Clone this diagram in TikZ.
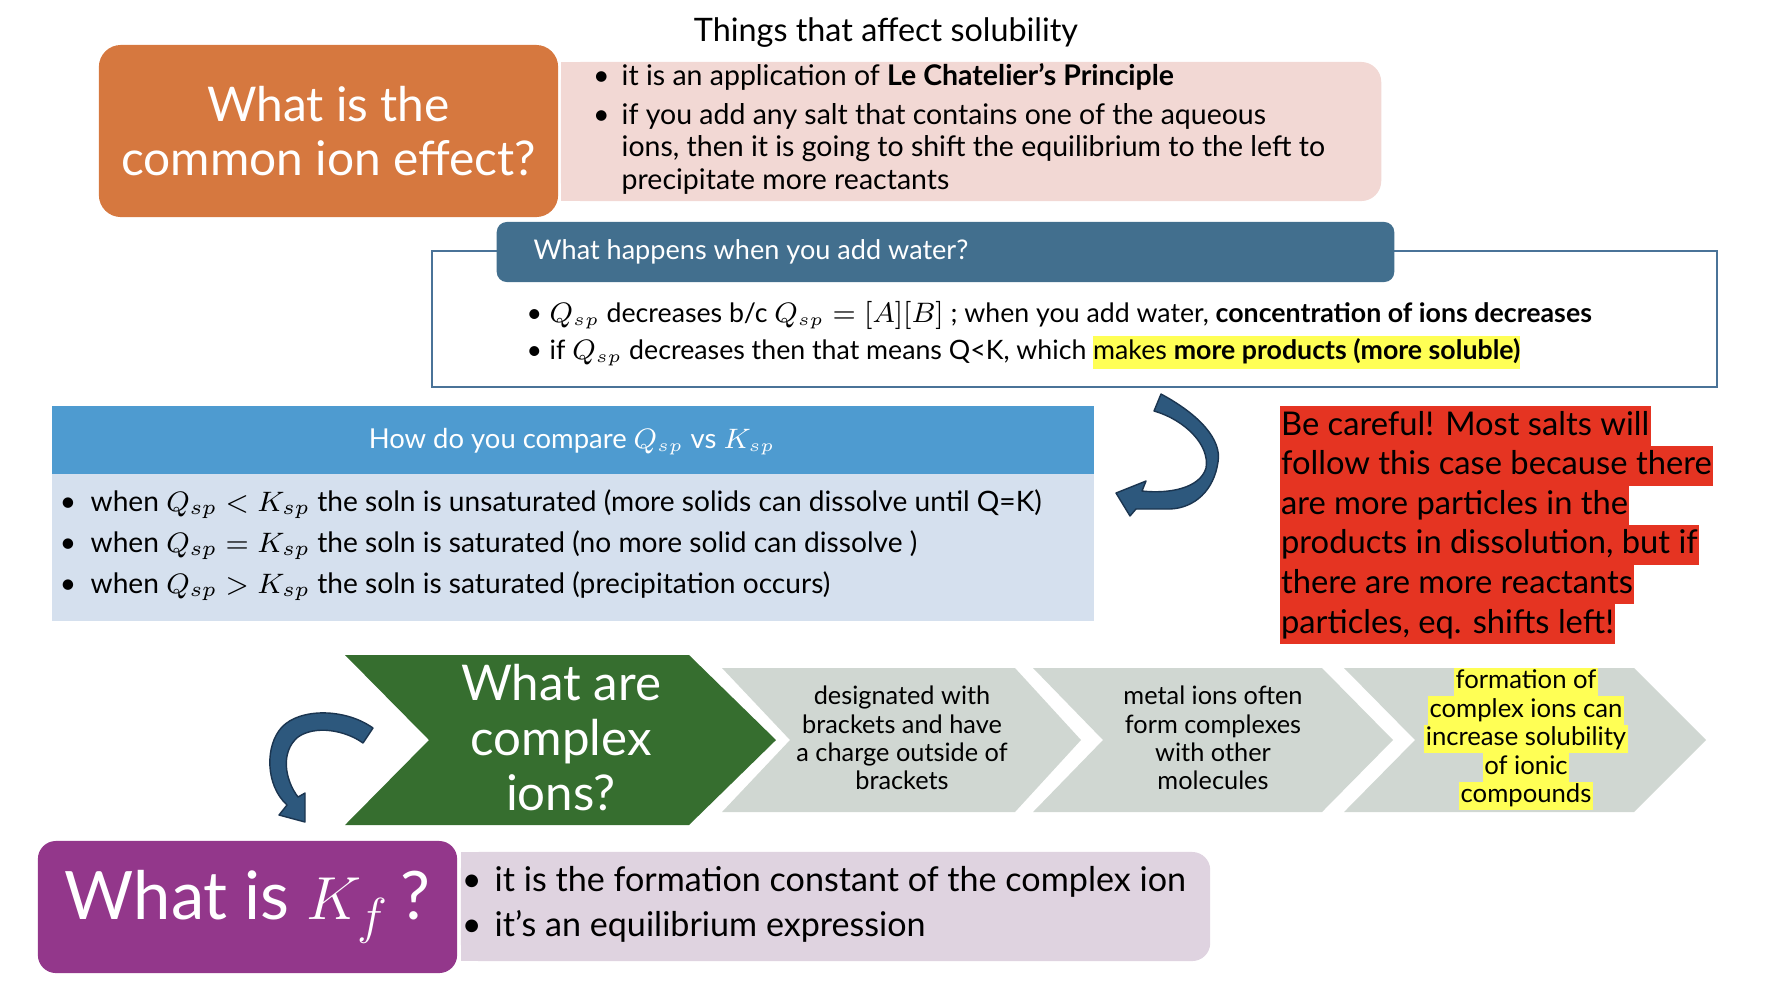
\documentclass[tikz,border=0pt]{standalone}
\usepackage{fontspec}
\setmainfont{Lato}
\definecolor{ionOrange}{HTML}{D6783F}
\definecolor{ionPink}{HTML}{F2D8D4}
\definecolor{waterHead}{HTML}{426F8E}
\definecolor{waterLine}{HTML}{4A7398}
\definecolor{compHead}{HTML}{4E9BD0}
\definecolor{compBody}{HTML}{D5E0EE}
\definecolor{careRed}{HTML}{E53422}
\definecolor{ionGreen}{HTML}{366E2F}
\definecolor{chevGray}{HTML}{D0D7D2}
\definecolor{kfPurple}{HTML}{93378B}
\definecolor{kfLilac}{HTML}{DFD3E0}
\definecolor{hiYellow}{HTML}{FFFF55}
\definecolor{arrowFill}{HTML}{2D587D}
\definecolor{arrowEdge}{HTML}{1B3550}
\newcommand{\itemDot}[1][0.5em]{\llap{\textbullet\hspace{#1}}}
\newcommand{\hiLight}[1]{{\setlength{\fboxsep}{0pt}\colorbox{hiYellow}{\strut #1}}}

\begin{document}
\begin{tikzpicture}[x=0.01cm, y=-0.01cm,
    panel/.style={inner sep=0pt, rounded corners=0.2cm},
    line/.style={anchor=base west, inner sep=0pt},
    pinkText/.style={line, font=\fontsize{8.1}{9.7}\selectfont},
    waterText/.style={line, font=\fontsize{7.6}{9.5}\selectfont},
    compText/.style={line, font=\fontsize{8}{9.6}\selectfont},
    kfText/.style={line, font=\fontsize{9.7}{11.6}\selectfont},
    careLine/.style={anchor=west, fill=careRed, inner xsep=0.4pt, inner ysep=0pt,
        text height=2.9mm, text depth=1.1mm, font=\fontsize{9.3}{11.2}\selectfont},
    chevText/.style={align=center, inner sep=0pt, font=\fontsize{7.2}{8.05}\selectfont},
    markLine/.style={fill=hiYellow, inner xsep=0.4pt, inner ysep=0pt,
        text height=2.1mm, text depth=0.75mm, font=\fontsize{7.3}{8.1}\selectfont},
    bentArrow/.style={fill=arrowFill, draw=arrowEdge, line width=0.4pt, line join=round}
]
    \useasboundingbox (0,0) rectangle (1770,999);

    % Title
    \node[anchor=base, inner sep=0pt, font=\fontsize{9.2}{11}\selectfont] (title) at (886,41) {Things that affect solubility};

    % Common ion effect
    \fill[ionPink] (561,62) rectangle (800,201);
    \node[panel, fill=ionPink, minimum width=8.2cm, minimum height=1.39cm] (commonBody) at (971,131.5) {};
    \node[panel, fill=ionOrange, rounded corners=0.22cm, minimum width=4.59cm, minimum height=1.72cm,
        text=white, align=center, font=\fontsize{13.6}{15.4}\selectfont] (common) at (328.5,131) {What is the\\common ion effect?};
    \node[pinkText] (common1) at (621,85) {\itemDot[0.42em]it is an application of \textbf{Le Chatelier’s Principle}};
    \node[pinkText] (common2) at (621,124) {\itemDot[0.42em]if you add any salt that contains one of the aqueous};
    \node[pinkText] (common3) at (621,156) {ions, then it is going to shift the equilibrium to the left to};
    \node[pinkText] (common4) at (621,189) {precipitate more reactants};

    % Adding water
    \draw[waterLine, line width=0.6pt] (432,251) rectangle (1717,387);
    \node[panel, fill=waterHead, rounded corners=0.1cm, minimum width=8.97cm, minimum height=0.6cm] (water) at (945.5,252) {};
    \node[line, text=white, font=\fontsize{7.7}{9.2}\selectfont] (waterHead) at (533,259) {What happens when you add water?};
    \node[waterText] (water1) at (549,322) {\itemDot[0.28em]$Q_{sp}$ decreases b/c $Q_{sp}=[A][B]$ ; when you add water, \textbf{concentration of ions decreases}};
    \node[waterText] (water2) at (549,359) {\itemDot[0.28em]if $Q_{sp}$ decreases then that means Q<K, which \hiLight{makes \textbf{more products (more soluble)}}};

    % Comparing Q and K
    \fill[compBody] (52,474) rectangle (1094,621);
    \node[inner sep=0pt, fill=compHead, minimum width=10.42cm, minimum height=0.68cm] (comp) at (573,440) {};
    \node[anchor=base, inner sep=0pt, text=white, font=\fontsize{7.8}{9.4}\selectfont] (compHead) at (572,448) {How do you compare $Q_{sp}$ vs $K_{sp}$};
    \node[compText] (comp1) at (90,511) {\itemDot[0.52em]when $Q_{sp}<K_{sp}$ the soln is unsaturated (more solids can dissolve until Q=K)};
    \node[compText] (comp2) at (90,552) {\itemDot[0.52em]when $Q_{sp}=K_{sp}$ the soln is saturated (no more solid can dissolve )};
    \node[compText] (comp3) at (90,593) {\itemDot[0.52em]when $Q_{sp}>K_{sp}$ the soln is saturated (precipitation occurs)};

    % Curved arrow down to the comparison
    \filldraw[bentArrow] (1161,394) .. controls (1200,415) and (1222,440) .. (1218,462)
        .. controls (1214,490) and (1195,508) .. (1170,509) -- (1136,509) -- (1130,516) -- (1116,493)
        -- (1146,481) -- (1142,491) .. controls (1170,494) and (1200,488) .. (1206,468)
        .. controls (1210,445) and (1185,420) .. (1154,411) -- cycle;

    % Warning
    \node[careLine] (care1) at (1279,426) {Be careful! Most salts will};
    \node[careLine] (care2) at (1279,465.6) {follow this case because there};
    \node[careLine] (care3) at (1279,505.2) {are more particles in the};
    \node[careLine] (care4) at (1279,544.8) {products in dissolution, but if};
    \node[careLine] (care5) at (1279,584.4) {there are more reactants};
    \node[careLine] (care6) at (1279,624) {particles, eq. shifts left!};

    % Complex ions
    \fill[chevGray] (722,668) -- (1015,668) -- (1081,740) -- (1015,812) -- (722,812) -- (790,740) -- cycle;
    \fill[chevGray] (1033,668) -- (1322,668) -- (1393,740) -- (1322,812) -- (1033,812) -- (1103,740) -- cycle;
    \fill[chevGray] (1344,668) -- (1634,668) -- (1706,740) -- (1634,812) -- (1344,812) -- (1415,740) -- cycle;
    \fill[ionGreen] (345,655) -- (689,655) -- (776,740) -- (689,825) -- (345,825) -- (429,740) -- cycle;
    \node[align=center, inner sep=0pt, text=white, font=\fontsize{14}{15.65}\selectfont] (complex) at (561,738) {What are\\complex\\ions?};
    \node[chevText] (bracket) at (902,738) {designated with\\brackets and have\\a charge outside of\\brackets};
    \node[chevText] (metal) at (1213,738) {metal ions often\\form complexes\\with other\\molecules};
    \node[markLine] (form1) at (1526,682) {formation of};
    \node[markLine] (form2) at (1526,710.5) {complex ions can};
    \node[markLine] (form3) at (1526,739) {increase solubility};
    \node[markLine] (form4) at (1526,767.5) {of ionic};
    \node[markLine] (form5) at (1526,796) {compounds};

    % Curved arrow down to K_f
    \filldraw[bentArrow] (373,728) .. controls (345,708) and (300,708) .. (282,727)
        .. controls (265,745) and (265,785) .. (287,805) -- (279,815) -- (305,822) -- (305,793)
        -- (298,797) .. controls (285,780) and (280,752) .. (298,737)
        .. controls (315,725) and (345,730) .. (363,743) -- cycle;

    % Formation constant
    \fill[kfLilac] (461,852) rectangle (700,961);
    \node[panel, fill=kfLilac, rounded corners=0.18cm, minimum width=7.49cm, minimum height=1.09cm] (kfBody) at (835.5,906.5) {};
    \node[panel, fill=kfPurple, rounded corners=0.18cm, minimum width=4.19cm, minimum height=1.32cm,
        text=white, font=\fontsize{19}{22.5}\selectfont] (kf) at (247.5,907) {What is $K_f$\,?};
    \node[kfText] (kf1) at (494,891) {\itemDot[0.38em]it is the formation constant of the complex ion};
    \node[kfText] (kf2) at (494,936) {\itemDot[0.38em]it’s an equilibrium expression};
\end{tikzpicture}
\end{document}
